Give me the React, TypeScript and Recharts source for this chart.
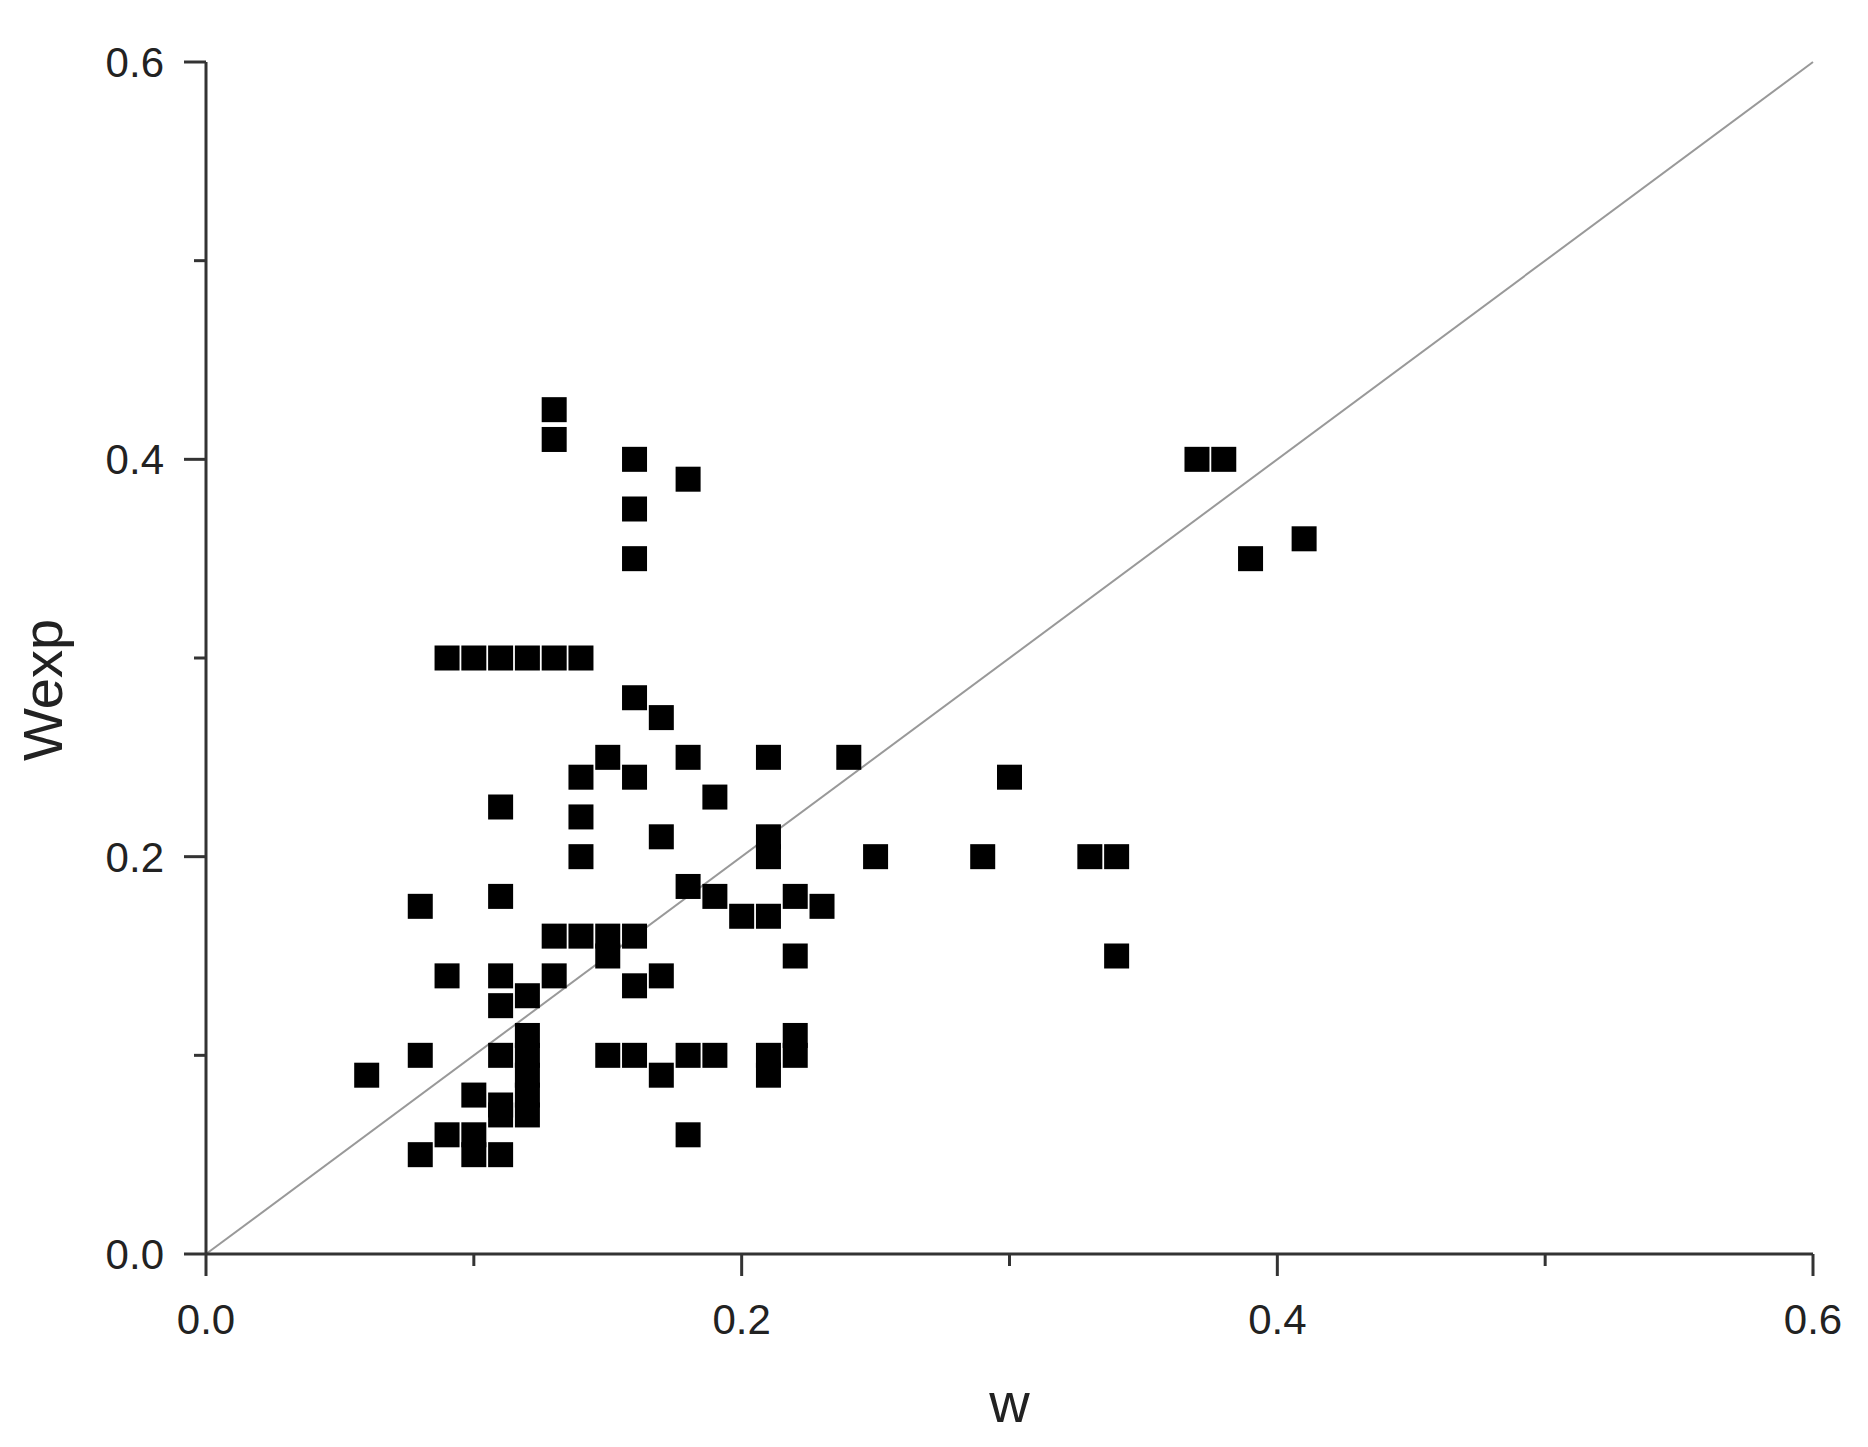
import React from "react";
import {
  ScatterChart,
  Scatter,
  XAxis,
  YAxis,
  ReferenceLine,
} from "recharts";

// w (x) and Wexp (y), paired by index
const wValues = [
  0.06, 0.08, 0.08, 0.08, 0.09, 0.09, 0.09, 0.1, 0.1, 0.1, 0.1,
  0.11, 0.11, 0.11, 0.11, 0.11, 0.11, 0.11, 0.11, 0.11,
  0.12, 0.12, 0.12, 0.12, 0.12, 0.12, 0.12,
  0.13, 0.13, 0.13, 0.13, 0.13,
  0.14, 0.14, 0.14, 0.14, 0.14,
  0.15, 0.15, 0.15, 0.15,
  0.16, 0.16, 0.16, 0.16, 0.16, 0.16, 0.16, 0.16,
  0.17, 0.17, 0.17, 0.17,
  0.18, 0.18, 0.18, 0.18, 0.18,
  0.19, 0.19, 0.19, 0.2,
  0.21, 0.21, 0.21, 0.21, 0.21, 0.21,
  0.22, 0.22, 0.22, 0.22, 0.23, 0.24, 0.25, 0.29, 0.3,
  0.33, 0.34, 0.34, 0.37, 0.38, 0.39, 0.41,
];
const wexpValues = [
  0.09, 0.1, 0.05, 0.175, 0.14, 0.06, 0.3, 0.08, 0.06, 0.05, 0.3,
  0.18, 0.14, 0.125, 0.1, 0.075, 0.07, 0.05, 0.225, 0.3,
  0.13, 0.11, 0.1, 0.09, 0.08, 0.07, 0.3,
  0.425, 0.41, 0.3, 0.16, 0.14,
  0.3, 0.24, 0.22, 0.2, 0.16,
  0.25, 0.16, 0.15, 0.1,
  0.4, 0.375, 0.35, 0.28, 0.24, 0.16, 0.135, 0.1,
  0.27, 0.21, 0.14, 0.09,
  0.39, 0.25, 0.185, 0.1, 0.06,
  0.23, 0.18, 0.1, 0.17,
  0.25, 0.21, 0.2, 0.17, 0.1, 0.09,
  0.18, 0.15, 0.11, 0.1, 0.175, 0.25, 0.2, 0.2, 0.24,
  0.2, 0.2, 0.15, 0.4, 0.4, 0.35, 0.36,
];
const axisTicks = [0, 0.1, 0.2, 0.3, 0.4, 0.5, 0.6];

const points = wValues.map((w, i) => ({ w, wexp: wexpValues[i] }));

const FONT = "Arial, 'Liberation Sans', sans-serif";
const AXIS_COLOR = "#333";
const isMajor = (v: number) => Math.round(v * 10) % 2 === 0;

const SquareDot = (props: any) => {
  const { cx, cy } = props;
  if (cx == null || cy == null) return null;
  const s = 25;
  return <rect x={cx - s / 2} y={cy - s / 2} width={s} height={s} fill="#000" />;
};

const XTick = (props: any) => {
  const { x, y, payload } = props;
  const major = isMajor(payload.value);
  return (
    <g>
      <line x1={x} y1={y} x2={x} y2={y + (major ? 22 : 12)} stroke={AXIS_COLOR} strokeWidth={3} />
      {major && (
        <text x={x} y={y + 80} textAnchor="middle" fontSize={42} fontFamily={FONT} fill="#222">
          {payload.value.toFixed(1)}
        </text>
      )}
    </g>
  );
};

const YTick = (props: any) => {
  const { x, y, payload } = props;
  const major = isMajor(payload.value);
  return (
    <g>
      <line x1={x} y1={y} x2={x - (major ? 22 : 12)} y2={y} stroke={AXIS_COLOR} strokeWidth={3} />
      {major && (
        <text x={x - 42} y={y + 15} textAnchor="end" fontSize={42} fontFamily={FONT} fill="#222">
          {payload.value.toFixed(1)}
        </text>
      )}
    </g>
  );
};

export default function App() {
  return (
    <div style={{ position: "absolute", left: 0, top: 0, background: "#fff" }}>
      <ScatterChart
        width={1868}
        height={1447}
        margin={{ top: 62, right: 55, bottom: 0, left: 0 }}
      >
        <XAxis
          type="number"
          dataKey="w"
          domain={[0, 0.6]}
          ticks={axisTicks}
          interval={0}
          height={193}
          tickSize={0}
          tickMargin={0}
          tickLine={false}
          tick={<XTick />}
          axisLine={{ stroke: AXIS_COLOR, strokeWidth: 3 }}
          label={{
            content: (p: any) => {
              const vb = p.viewBox;
              return (
                <text x={vb.x + vb.width / 2} y={vb.y + 168} textAnchor="middle" fontSize={56} fontFamily={FONT} fill="#222">
                  w
                </text>
              );
            },
          }}
        />
        <YAxis
          type="number"
          dataKey="wexp"
          domain={[0, 0.6]}
          ticks={axisTicks}
          interval={0}
          width={206}
          tickSize={0}
          tickMargin={0}
          tickLine={false}
          tick={<YTick />}
          axisLine={{ stroke: AXIS_COLOR, strokeWidth: 3 }}
          label={{
            content: () => (
              <text x={62} y={690} transform="rotate(-90, 62, 690)" textAnchor="middle" fontSize={56} fontFamily={FONT} fill="#222">
                Wexp
              </text>
            ),
          }}
        />
        <ReferenceLine
          segment={[{ x: 0, y: 0 }, { x: 0.6, y: 0.6 }]}
          stroke="#999"
          strokeWidth={2}
          ifOverflow="visible"
        />
        <Scatter data={points} shape={<SquareDot />} isAnimationActive={false} />
      </ScatterChart>
    </div>
  );
}
